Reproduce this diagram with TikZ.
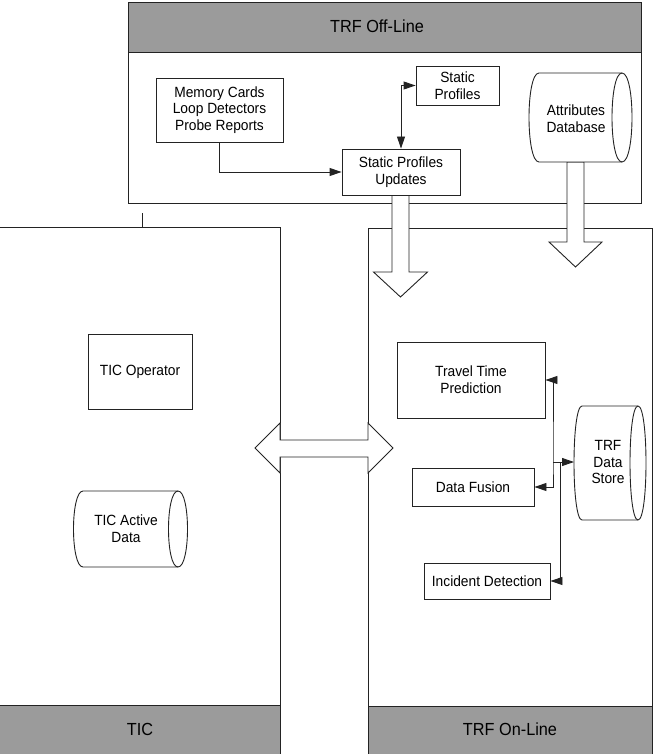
\documentclass[tikz,border=0pt]{standalone}
\usepackage{fontspec}
\setmainfont{Liberation Sans}[FakeStretch=0.93]
\usetikzlibrary{arrows.meta}

% storage drum: left x, right x, top y, bottom y, end radius
\newcommand{\dbdrum}[5]{%
  \filldraw[line, fill=white] (#1,#3) -- (#2,#3)
    .. controls ({#2+4/3*#5},#3) and ({#2+4/3*#5},#4) .. (#2,#4)
    -- (#1,#4)
    .. controls ({#1-4/3*#5},#4) and ({#1-4/3*#5},#3) .. (#1,#3) -- cycle;
  \draw[line] (#2,#3) .. controls ({#2-4/3*#5},#3) and ({#2-4/3*#5},#4) .. (#2,#4);}

\definecolor{band}{RGB}{155,155,155}
\definecolor{ink}{RGB}{35,35,35}

\begin{document}
\begin{tikzpicture}[x=1pt, y=-1pt,
  line/.style={draw=ink, line width=0.9pt},
  txt/.style={font=\fontsize{14.8}{16.7}\selectfont, align=center, text=black, inner sep=0pt},
  box/.style={line, txt, fill=white},
  title/.style={font=\fontsize{17.5}{20}\selectfont, text=black, inner sep=0pt},
  tip/.tip={Triangle[length=12pt,width=8pt]},
  flow/.style={line, -tip},
  flow2/.style={line, tip-tip},
  block/.style={line, fill=white, line join=miter}]

\useasboundingbox (0,0) rectangle (655,754);

% ---------- panels ----------
% TIC
\fill[white] (-3,227) rectangle (280,760);
\draw[line] (-3,227) rectangle (280,760);
\filldraw[line, fill=band] (-3,705) rectangle (280,760);
\node[title] (tic) at (140,729) {TIC};
\coordinate (tick) at (142,213);
\draw[line] (tick) -- (142,227);

% TRF On-Line
\draw[line] (368,228) rectangle (652,760);
\filldraw[line, fill=band] (368,706) rectangle (652,760);
\node[title] (online) at (510,729) {TRF On-Line};

% TRF Off-Line
\draw[line] (128.5,2) rectangle (641,203);
\filldraw[line, fill=band] (128.5,2) rectangle (641,52);
\node[title] (offline) at (377,26) {TRF Off-Line};

% ---------- hollow transfer arrows ----------
\draw[block] (392,195) -- (392,272) -- (373.5,272) -- (400.5,297)
  -- (427.5,272) -- (409,272) -- (409,195) -- cycle;
\draw[block] (567,162) -- (567,242) -- (549,242) -- (575.5,267)
  -- (602,242) -- (584,242) -- (584,162) -- cycle;
\draw[block] (255,448) -- (280,423) -- (280,440) -- (368,440) -- (368,423)
  -- (393,448) -- (368,473) -- (368,457) -- (280,457) -- (280,473) -- cycle;

% ---------- TRF Off-Line content ----------
\node[box, minimum width=127pt, minimum height=64pt] (mem) at (219.5,110)
  {Memory Cards\\Loop Detectors\\Probe Reports};
\node[box, minimum width=83pt, minimum height=39pt] (sp) at (457.5,85.5)
  {Static\\Profiles};
\node[box, minimum width=118pt, minimum height=46pt] (spu) at (401,172)
  {Static Profiles\\Updates};
\dbdrum{539}{622}{73}{162}{10}
\node[txt] (attr) at (576,119) {Attributes\\Database};

\draw[flow] (mem.south) |- (spu.west);
\draw[flow2] (sp.west) -| (spu.north);

% ---------- TIC content ----------
\node[box, minimum width=104pt, minimum height=75pt] (op) at (140,371.5)
  {TIC Operator};
\dbdrum{83}{178}{491}{567}{9.5}
\node[txt] (active) at (126,529) {TIC Active\\Data};

% ---------- TRF On-Line content ----------
\node[box, minimum width=148pt, minimum height=76pt] (ttp) at (471,380)
  {Travel Time\\Prediction};
\node[box, minimum width=122pt, minimum height=38pt] (df) at (473,487)
  {Data Fusion};
\node[box, minimum width=126pt, minimum height=36pt] (inc) at (487,581)
  {Incident Detection};
\dbdrum{582}{638}{406}{520}{8}
\node[txt] (store) at (608,462) {TRF\\Data\\Store};
\coordinate (store-w) at (574,462);

\coordinate (j1) at (553,462);
\coordinate (j2) at (560,462);
\draw[flow2] (ttp.east) -| (j1) |- (df.east);
\draw[flow] (j1) -- (store-w);
\draw[flow] (j2) |- (inc.east);

\end{tikzpicture}
\end{document}
